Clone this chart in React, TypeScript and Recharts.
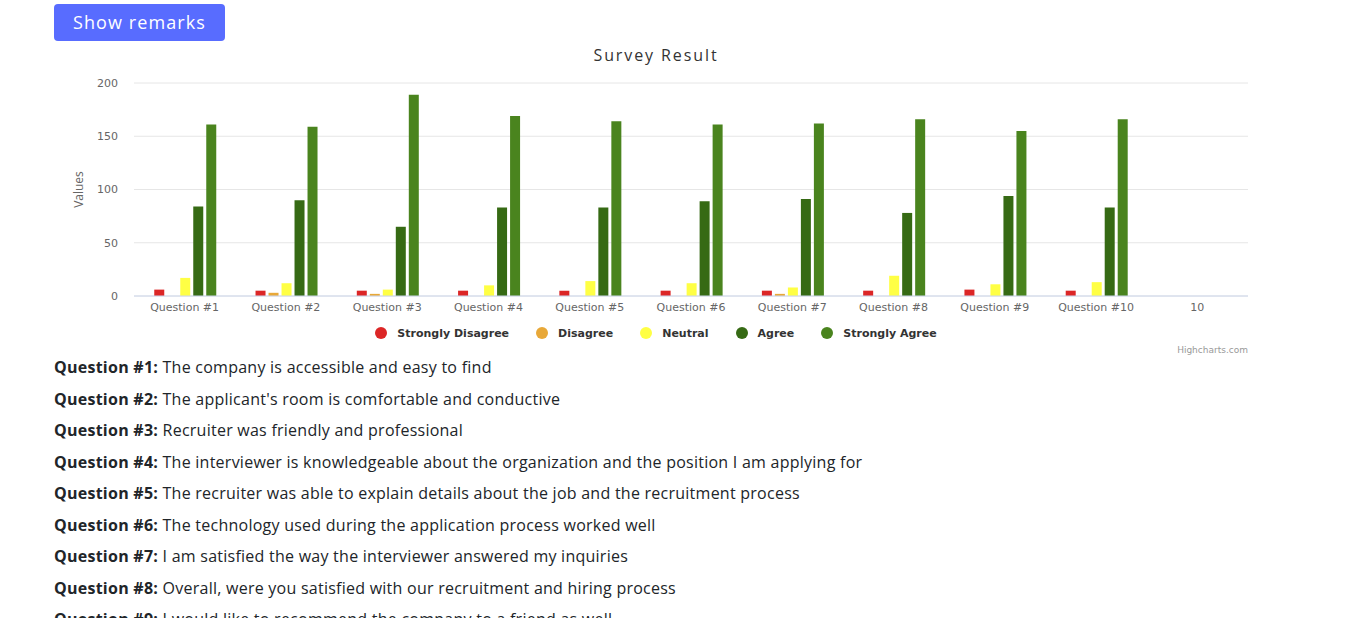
import { BarChart, Bar, XAxis, YAxis, CartesianGrid } from 'recharts';

const CATEGORIES = [
  'Question #1', 'Question #2', 'Question #3', 'Question #4', 'Question #5',
  'Question #6', 'Question #7', 'Question #8', 'Question #9', 'Question #10', '10',
];

const STRONGLY_DISAGREE = [6, 5, 5, 5, 5, 5, 5, 5, 6, 5, null];
const DISAGREE = [0, 3, 2, 0, 0, 0, 2, 0, 0, 0, null];
const NEUTRAL = [17, 12, 6, 10, 14, 12, 8, 19, 11, 13, null];
const AGREE = [84, 90, 65, 83, 83, 89, 91, 78, 94, 83, null];
const STRONGLY_AGREE = [161, 159, 189, 169, 164, 161, 162, 166, 155, 166, null];

const Y_TICKS = [0, 50, 100, 150, 200];

const SERIES = [
  { key: 'sd', name: 'Strongly Disagree', color: '#dc2626', values: STRONGLY_DISAGREE },
  { key: 'd', name: 'Disagree', color: '#e8a838', values: DISAGREE },
  { key: 'n', name: 'Neutral', color: '#ffff44', values: NEUTRAL },
  { key: 'a', name: 'Agree', color: '#366a14', values: AGREE },
  { key: 'sa', name: 'Strongly Agree', color: '#4a841e', values: STRONGLY_AGREE },
];

const REMARKS = [
  'The company is accessible and easy to find',
  "The applicant's room is comfortable and conductive",
  'Recruiter was friendly and professional',
  'The interviewer is knowledgeable about the organization and the position I am applying for',
  'The recruiter was able to explain details about the job and the recruitment process',
  'The technology used during the application process worked well',
  'I am satisfied the way the interviewer answered my inquiries',
  'Overall, were you satisfied with our recruitment and hiring process',
  'I would like to recommend the company to a friend as well',
];

const FONT = '"Open Sans", sans-serif';
const CHART_FONT = '"DejaVu Sans", sans-serif';

const chartData = CATEGORIES.map((name, i) => {
  const row: Record<string, any> = { name };
  SERIES.forEach((s) => {
    row[s.key] = s.values[i];
  });
  return row;
});

const ValuesLabel = ({ viewBox }: any) => {
  const x = viewBox.x + 26;
  const y = viewBox.y + viewBox.height / 2;
  return (
    <text
      x={x}
      y={y}
      transform={`rotate(-90, ${x}, ${y})`}
      textAnchor="middle"
      dominantBaseline="middle"
      fill="#666666"
      fontSize={12}
      fontFamily={FONT}
    >
      Values
    </text>
  );
};

export default function App() {
  return (
    <div style={{ position: 'absolute', left: 0, top: 0, width: 1354, height: 618, overflow: 'hidden', fontFamily: FONT, background: '#fff' }}>
      <div
        style={{
          position: 'absolute', left: 54, top: 4, width: 171, height: 37,
          background: '#586cff', color: '#fff', borderRadius: 4,
          fontSize: 18, letterSpacing: 1.1, lineHeight: '37px', textAlign: 'center',
        }}
      >
        Show remarks
      </div>

      <div style={{ position: 'absolute', left: 54, top: 44, width: 1204, textAlign: 'center', fontSize: 16, letterSpacing: 1.9, lineHeight: '22px', color: '#333333' }}>
        Survey Result
      </div>

      <div style={{ position: 'absolute', left: 54, top: 70 }}>
        <BarChart
          width={1204}
          height={250}
          data={chartData}
          margin={{ top: 13, right: 10, left: 0, bottom: 0 }}
          barCategoryGap="20%"
          barGap={3}
        >
          <CartesianGrid stroke="#e6e6e6" vertical={false} />
          <XAxis
            dataKey="name"
            height={24}
            stroke="#ccd6eb"
            tickLine={false}
            tickSize={0}
            tickMargin={7}
            interval={0}
            tick={{ fill: '#666666', fontSize: 11, fontFamily: CHART_FONT }}
          />
          <YAxis
            width={80}
            domain={[0, 200]}
            ticks={Y_TICKS}
            axisLine={false}
            tickLine={false}
            tickSize={0}
            tickMargin={16}
            tick={{ fill: '#666666', fontSize: 11, fontFamily: CHART_FONT }}
            label={<ValuesLabel />}
          />
          {SERIES.map((s) => (
            <Bar key={s.key} dataKey={s.key} name={s.name} fill={s.color} isAnimationActive={false} />
          ))}
        </BarChart>
      </div>

      <div
        style={{
          position: 'absolute', left: 54, top: 325, width: 1204, height: 16,
          display: 'flex', justifyContent: 'center', alignItems: 'center', gap: 27,
        }}
      >
        {SERIES.map((s) => (
          <div key={s.key} style={{ display: 'flex', alignItems: 'center', gap: 10 }}>
            <span style={{ width: 12, height: 12, borderRadius: 6, background: s.color, display: 'inline-block' }} />
            <span style={{ fontSize: 11, fontWeight: 700, color: '#333333', fontFamily: CHART_FONT }}>{s.name}</span>
          </div>
        ))}
      </div>

      <div style={{ position: 'absolute', left: 1098, top: 345, width: 150, textAlign: 'right', fontSize: 9, color: '#999999', fontFamily: CHART_FONT }}>
        Highcharts.com
      </div>

      {REMARKS.map((text, i) => (
        <div
          key={i}
          style={{ position: 'absolute', left: 54, top: 357 + i * 31.5, fontSize: 16, letterSpacing: 0.25, lineHeight: '20px', color: '#212529', whiteSpace: 'nowrap' }}
        >
          <b>Question #{i + 1}:</b> {text}
        </div>
      ))}
    </div>
  );
}
